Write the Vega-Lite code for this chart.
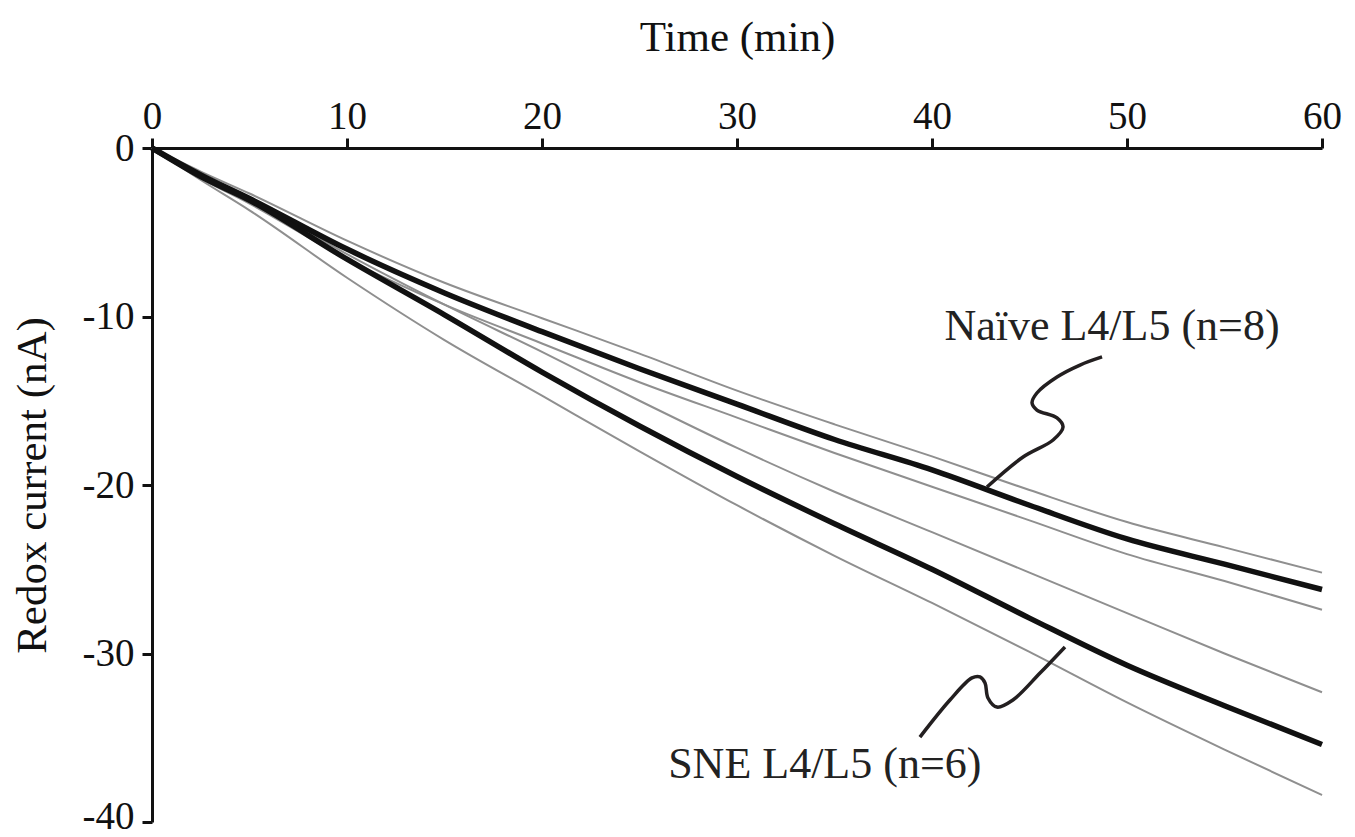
{
  "$schema": "https://vega.github.io/schema/vega-lite/v6.json",
  "width": 1170,
  "height": 674,
  "autosize": {"type": "none"},
  "padding": {"left": 152, "top": 148, "right": 33, "bottom": 15},
  "background": "white",
  "config": {
    "font": "Liberation Serif",
    "view": {"stroke": null},
    "axis": {
      "grid": false,
      "domainColor": "#111",
      "domainWidth": 3,
      "tickColor": "#111",
      "tickWidth": 3,
      "tickSize": 10,
      "labelFont": "Liberation Serif",
      "labelFontSize": 39,
      "labelColor": "#111",
      "titleFont": "Liberation Serif",
      "titleFontSize": 43,
      "titleFontWeight": "normal",
      "titleColor": "#111"
    }
  },
  "datasets": {
    "curves": [
      {"series": "Naive upper", "stat": "bound", "t": 0, "nA": 0},
      {"series": "Naive upper", "stat": "bound", "t": 2.5, "nA": -1.4},
      {"series": "Naive upper", "stat": "bound", "t": 5, "nA": -2.7},
      {"series": "Naive upper", "stat": "bound", "t": 10, "nA": -5.5},
      {"series": "Naive upper", "stat": "bound", "t": 15, "nA": -8.0},
      {"series": "Naive upper", "stat": "bound", "t": 20, "nA": -10.1},
      {"series": "Naive upper", "stat": "bound", "t": 25, "nA": -12.2},
      {"series": "Naive upper", "stat": "bound", "t": 30, "nA": -14.4},
      {"series": "Naive upper", "stat": "bound", "t": 35, "nA": -16.4},
      {"series": "Naive upper", "stat": "bound", "t": 40, "nA": -18.3},
      {"series": "Naive upper", "stat": "bound", "t": 45, "nA": -20.3},
      {"series": "Naive upper", "stat": "bound", "t": 50, "nA": -22.2},
      {"series": "Naive upper", "stat": "bound", "t": 55, "nA": -23.7},
      {"series": "Naive upper", "stat": "bound", "t": 60, "nA": -25.2},
      {"series": "Naive lower", "stat": "bound", "t": 0, "nA": 0},
      {"series": "Naive lower", "stat": "bound", "t": 2.5, "nA": -1.8},
      {"series": "Naive lower", "stat": "bound", "t": 5, "nA": -3.3},
      {"series": "Naive lower", "stat": "bound", "t": 10, "nA": -6.6},
      {"series": "Naive lower", "stat": "bound", "t": 15, "nA": -9.3},
      {"series": "Naive lower", "stat": "bound", "t": 20, "nA": -11.6},
      {"series": "Naive lower", "stat": "bound", "t": 25, "nA": -13.9},
      {"series": "Naive lower", "stat": "bound", "t": 30, "nA": -16.0},
      {"series": "Naive lower", "stat": "bound", "t": 35, "nA": -18.1},
      {"series": "Naive lower", "stat": "bound", "t": 40, "nA": -20.1},
      {"series": "Naive lower", "stat": "bound", "t": 45, "nA": -22.1},
      {"series": "Naive lower", "stat": "bound", "t": 50, "nA": -24.1},
      {"series": "Naive lower", "stat": "bound", "t": 55, "nA": -25.7},
      {"series": "Naive lower", "stat": "bound", "t": 60, "nA": -27.4},
      {"series": "SNE upper", "stat": "bound", "t": 0, "nA": 0},
      {"series": "SNE upper", "stat": "bound", "t": 2.5, "nA": -1.6},
      {"series": "SNE upper", "stat": "bound", "t": 5, "nA": -3.0},
      {"series": "SNE upper", "stat": "bound", "t": 10, "nA": -6.3},
      {"series": "SNE upper", "stat": "bound", "t": 15, "nA": -9.3},
      {"series": "SNE upper", "stat": "bound", "t": 20, "nA": -12.1},
      {"series": "SNE upper", "stat": "bound", "t": 25, "nA": -15.0},
      {"series": "SNE upper", "stat": "bound", "t": 30, "nA": -17.8},
      {"series": "SNE upper", "stat": "bound", "t": 35, "nA": -20.4},
      {"series": "SNE upper", "stat": "bound", "t": 40, "nA": -22.8},
      {"series": "SNE upper", "stat": "bound", "t": 45, "nA": -25.2},
      {"series": "SNE upper", "stat": "bound", "t": 50, "nA": -27.6},
      {"series": "SNE upper", "stat": "bound", "t": 55, "nA": -30.0},
      {"series": "SNE upper", "stat": "bound", "t": 60, "nA": -32.3},
      {"series": "SNE lower", "stat": "bound", "t": 0, "nA": 0},
      {"series": "SNE lower", "stat": "bound", "t": 2.5, "nA": -1.9},
      {"series": "SNE lower", "stat": "bound", "t": 5, "nA": -3.7},
      {"series": "SNE lower", "stat": "bound", "t": 10, "nA": -7.7},
      {"series": "SNE lower", "stat": "bound", "t": 15, "nA": -11.4},
      {"series": "SNE lower", "stat": "bound", "t": 20, "nA": -14.7},
      {"series": "SNE lower", "stat": "bound", "t": 25, "nA": -18.0},
      {"series": "SNE lower", "stat": "bound", "t": 30, "nA": -21.2},
      {"series": "SNE lower", "stat": "bound", "t": 35, "nA": -24.2},
      {"series": "SNE lower", "stat": "bound", "t": 40, "nA": -27.0},
      {"series": "SNE lower", "stat": "bound", "t": 45, "nA": -29.9},
      {"series": "SNE lower", "stat": "bound", "t": 50, "nA": -32.9},
      {"series": "SNE lower", "stat": "bound", "t": 55, "nA": -35.7},
      {"series": "SNE lower", "stat": "bound", "t": 60, "nA": -38.4},
      {"series": "Naive mean", "stat": "mean", "t": 0, "nA": 0},
      {"series": "Naive mean", "stat": "mean", "t": 2.5, "nA": -1.6},
      {"series": "Naive mean", "stat": "mean", "t": 5, "nA": -3.0},
      {"series": "Naive mean", "stat": "mean", "t": 10, "nA": -6.0},
      {"series": "Naive mean", "stat": "mean", "t": 15, "nA": -8.6},
      {"series": "Naive mean", "stat": "mean", "t": 20, "nA": -10.9},
      {"series": "Naive mean", "stat": "mean", "t": 25, "nA": -13.1},
      {"series": "Naive mean", "stat": "mean", "t": 30, "nA": -15.2},
      {"series": "Naive mean", "stat": "mean", "t": 35, "nA": -17.3},
      {"series": "Naive mean", "stat": "mean", "t": 40, "nA": -19.1},
      {"series": "Naive mean", "stat": "mean", "t": 45, "nA": -21.2},
      {"series": "Naive mean", "stat": "mean", "t": 50, "nA": -23.2},
      {"series": "Naive mean", "stat": "mean", "t": 55, "nA": -24.7},
      {"series": "Naive mean", "stat": "mean", "t": 60, "nA": -26.2},
      {"series": "SNE mean", "stat": "mean", "t": 0, "nA": 0},
      {"series": "SNE mean", "stat": "mean", "t": 2.5, "nA": -1.7},
      {"series": "SNE mean", "stat": "mean", "t": 5, "nA": -3.1},
      {"series": "SNE mean", "stat": "mean", "t": 10, "nA": -6.6},
      {"series": "SNE mean", "stat": "mean", "t": 15, "nA": -9.9},
      {"series": "SNE mean", "stat": "mean", "t": 20, "nA": -13.3},
      {"series": "SNE mean", "stat": "mean", "t": 25, "nA": -16.5},
      {"series": "SNE mean", "stat": "mean", "t": 30, "nA": -19.5},
      {"series": "SNE mean", "stat": "mean", "t": 35, "nA": -22.3},
      {"series": "SNE mean", "stat": "mean", "t": 40, "nA": -25.0},
      {"series": "SNE mean", "stat": "mean", "t": 45, "nA": -27.9},
      {"series": "SNE mean", "stat": "mean", "t": 50, "nA": -30.7},
      {"series": "SNE mean", "stat": "mean", "t": 55, "nA": -33.1},
      {"series": "SNE mean", "stat": "mean", "t": 60, "nA": -35.4}
    ],
    "callouts": [
      {"callout": "naive", "i": 0, "t": 42.82, "nA": -20.12},
      {"callout": "naive", "i": 1, "t": 44.67, "nA": -18.34},
      {"callout": "naive", "i": 2, "t": 46.21, "nA": -17.33},
      {"callout": "naive", "i": 3, "t": 46.72, "nA": -16.56},
      {"callout": "naive", "i": 4, "t": 46.41, "nA": -16.02},
      {"callout": "naive", "i": 5, "t": 45.38, "nA": -15.55},
      {"callout": "naive", "i": 6, "t": 45.13, "nA": -15.13},
      {"callout": "naive", "i": 7, "t": 45.38, "nA": -14.54},
      {"callout": "naive", "i": 8, "t": 46.41, "nA": -13.59},
      {"callout": "naive", "i": 9, "t": 47.59, "nA": -12.88},
      {"callout": "naive", "i": 10, "t": 48.72, "nA": -12.40},
      {"callout": "sne", "i": 0, "t": 46.82, "nA": -29.61},
      {"callout": "sne", "i": 1, "t": 45.54, "nA": -31.16},
      {"callout": "sne", "i": 2, "t": 44.15, "nA": -32.76},
      {"callout": "sne", "i": 3, "t": 43.33, "nA": -33.18},
      {"callout": "sne", "i": 4, "t": 42.87, "nA": -32.64},
      {"callout": "sne", "i": 5, "t": 42.72, "nA": -31.75},
      {"callout": "sne", "i": 6, "t": 42.46, "nA": -31.39},
      {"callout": "sne", "i": 7, "t": 42.05, "nA": -31.45},
      {"callout": "sne", "i": 8, "t": 40.92, "nA": -32.76},
      {"callout": "sne", "i": 9, "t": 39.38, "nA": -34.96}
    ],
    "labels": [
      {"label": "Naïve L4/L5 (n=8)", "t": 49.23, "nA": -11.4},
      {"label": "SNE L4/L5 (n=6)", "t": 34.5, "nA": -37.4}
    ]
  },
  "encoding": {
    "x": {
      "field": "t",
      "type": "quantitative",
      "scale": {"domain": [0, 60], "nice": false, "zero": false},
      "axis": {
        "orient": "top",
        "values": [0, 10, 20, 30, 40, 50, 60],
        "labelFlush": false,
        "labelPadding": 2,
        "title": "Time (min)",
        "titleY": -98,
        "titleBaseline": "alphabetic"
      }
    },
    "y": {
      "field": "nA",
      "type": "quantitative",
      "scale": {"domain": [-40, 0], "nice": false, "zero": false},
      "axis": {
        "orient": "left",
        "values": [0, -10, -20, -30, -40],
        "labelFlush": false,
        "labelPadding": 8,
        "labelOffset": {"condition": {"test": "datum.value == -40", "value": -6}, "value": 0},
        "labelExpr": "datum.value == 0 ? '0' : '-' + abs(datum.value)",
        "title": "Redox current (nA)",
        "titleX": -120,
        "titleBaseline": "middle"
      }
    }
  },
  "layer": [
    {
      "data": {"name": "curves"},
      "transform": [{"filter": "datum.stat == 'bound'"}],
      "mark": {"type": "line", "color": "#8f8f8f", "strokeWidth": 2, "interpolate": "monotone"},
      "encoding": {"detail": {"field": "series"}}
    },
    {
      "data": {"name": "curves"},
      "transform": [{"filter": "datum.stat == 'mean'"}],
      "mark": {"type": "line", "color": "#111", "strokeWidth": 5.5, "interpolate": "monotone"},
      "encoding": {"detail": {"field": "series"}}
    },
    {
      "data": {"name": "callouts"},
      "mark": {"type": "line", "color": "#231f20", "strokeWidth": 3.5, "interpolate": "catmull-rom", "strokeCap": "butt"},
      "encoding": {"detail": {"field": "callout"}, "order": {"field": "i", "type": "quantitative"}}
    },
    {
      "data": {"name": "labels"},
      "mark": {"type": "text", "font": "Liberation Serif", "fontSize": 44, "color": "#222", "align": "center", "baseline": "alphabetic"},
      "encoding": {"text": {"field": "label"}}
    }
  ]
}
